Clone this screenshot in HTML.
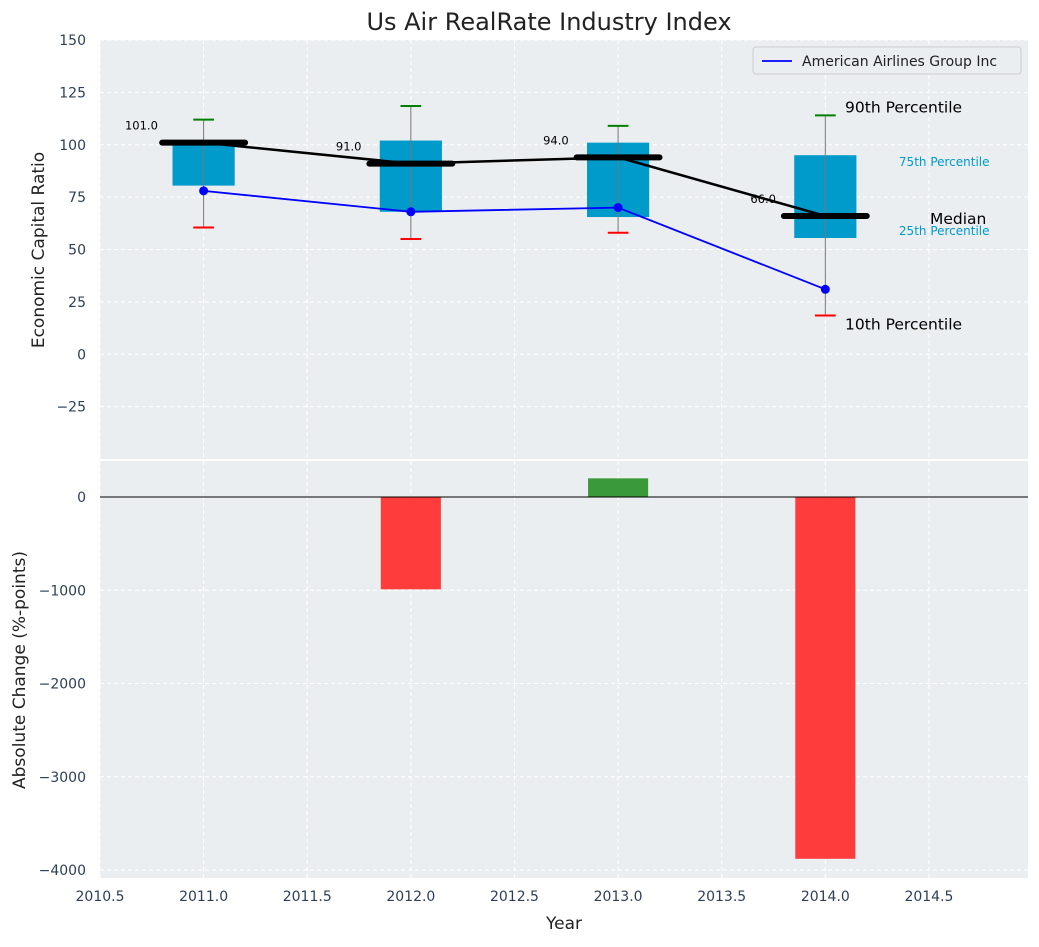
<!DOCTYPE html>
<html><head><meta charset="utf-8"><style>
body{margin:0;background:#fff;font-family:"Liberation Sans","DejaVu Sans",sans-serif}
</style></head><body>
<svg id="chart" width="1039" height="942" xmlns="http://www.w3.org/2000/svg" font-family="DejaVu Sans, Liberation Sans, sans-serif"></svg>
<script>
const years=[2011,2012,2013,2014];
const p10=[60.5,55,58,18.5];
const p25=[80.5,68,65.5,55.5];
const medians=[101,91,94,66];
const p75=[102,102,101,95];
const p90=[112,118.5,109,114];
const company=[78,68,70,31];
const changes=[0,-990,200,-3880];
const yTicksTop=[-25,0,25,50,75,100,125,150];
const yTicksBot=[-4000,-3000,-2000,-1000,0];
const xTicks=[2010.5,2011,2011.5,2012,2012.5,2013,2013.5,2014,2014.5];

const svg=document.getElementById('chart');
const NS='http://www.w3.org/2000/svg';
function el(t,a,p){const e=document.createElementNS(NS,t);for(const k in a)e.setAttribute(k,a[k]);(p||svg).appendChild(e);return e;}
const L=100,R=1028;
const x=v=>L+(v-2010.5)*(R-L)/(2014.978-2010.5);
const T0=40,T1=459,B0=461,B1=878;
const yt=v=>T1-(v+50)*(T1-T0)/200;
const yb=v=>497-v*0.09325;

let e=el('rect',{x:L,y:T0,width:R-L,height:T1-T0,fill:'#eaeef0'});

e=el('rect',{x:L,y:B0,width:R-L,height:B1-B0,fill:'#eaeef0'});


xTicks.forEach(v=>{
  el('line',{x1:x(v),x2:x(v),y1:T0,y2:T1,stroke:'#fff','stroke-dasharray':'4,3','stroke-width':1});
  el('line',{x1:x(v),x2:x(v),y1:B0,y2:B1,stroke:'#fff','stroke-dasharray':'4,3','stroke-width':1});
  const t=el('text',{x:x(v),y:901,'text-anchor':'middle','font-size':14,fill:'#2e3f55'});t.textContent=v.toFixed(1);
  
});
yTicksTop.forEach(v=>{
  el('line',{x1:L,x2:R,y1:yt(v),y2:yt(v),stroke:'#fff','stroke-dasharray':'4,3'});
  const t=el('text',{x:86,y:yt(v)+5,'text-anchor':'end','font-size':14,fill:'#2e3f55'});t.textContent=v<0?'\u2212'+(-v):v;
  
});
yTicksBot.forEach(v=>{
  el('line',{x1:L,x2:R,y1:yb(v),y2:yb(v),stroke:'#fff','stroke-dasharray':'4,3'});
  const t=el('text',{x:86,y:yb(v)+5,'text-anchor':'end','font-size':14,fill:'#2e3f55'});t.textContent=v<0?'\u2212'+(-v):v;
  
});

years.forEach((yr,i)=>{
  const b=el('rect',{x:x(yr-0.15),y:yt(p75[i]),width:x(yr+0.15)-x(yr-0.15),height:yt(p25[i])-yt(p75[i]),fill:'#009acb'});
  
  el('line',{x1:x(yr),x2:x(yr),y1:yt(p90[i]),y2:yt(p10[i]),stroke:'#777','stroke-width':1});
  el('line',{x1:x(yr-0.05),x2:x(yr+0.05),y1:yt(p90[i]),y2:yt(p90[i]),stroke:'green','stroke-width':2});
  el('line',{x1:x(yr-0.05),x2:x(yr+0.05),y1:yt(p10[i]),y2:yt(p10[i]),stroke:'red','stroke-width':2});
});
e=el('polyline',{points:years.map((yr,i)=>x(yr)+','+yt(medians[i])).join(' '),fill:'none',stroke:'#000','stroke-width':2.5});

years.forEach((yr,i)=>{
  const m=el('line',{x1:x(yr-0.2),x2:x(yr+0.2),y1:yt(medians[i]),y2:yt(medians[i]),stroke:'#000','stroke-width':6,'stroke-linecap':'round'});
  
  const t=el('text',{x:x(yr-0.3),y:yt(medians[i])-13,'text-anchor':'middle','font-size':11.5,fill:'#000'});t.textContent=medians[i].toFixed(1);
  
});
e=el('polyline',{points:years.map((yr,i)=>x(yr)+','+yt(company[i])).join(' '),fill:'none',stroke:'blue','stroke-width':1.8});

years.forEach((yr,i)=>{const c=el('circle',{cx:x(yr),cy:yt(company[i]),r:4.5,fill:'blue'});
  });

const last=3,ax=x(years[last]+0.1)-1;
[['90th Percentile',yt(p90[last])-3,15.5,'#000',ax],['10th Percentile',yt(p10[last])+14,15.5,'#000',ax],['Median',yt(medians[last])+8,15.5,'#000',x(2014.51)-1],
 ['75th Percentile',yt(p75[last])+11,12,'#009acb',x(2014.36)-1],['25th Percentile',yt(p25[last])-3,12,'#009acb',x(2014.36)-1]].forEach(a=>{
  const t=el('text',{x:a[4],y:a[1],'font-size':a[2],fill:a[3]});t.textContent=a[0];
  
});

years.forEach((yr,i)=>{
  if(!changes[i])return;
  const v=changes[i];
  const b=el('rect',{x:x(yr-0.145),y:Math.min(yb(0),yb(v)),width:x(yr+0.145)-x(yr-0.145),height:Math.abs(yb(v)-yb(0)),fill:v<0?'#ff3c3c':'#3a9a3a'});
  
});
el('line',{x1:L,x2:R,y1:yb(0),y2:yb(0),stroke:'#000','stroke-width':1});

const lg=el('g',{});
el('rect',{x:753,y:47,width:268,height:27,rx:3,fill:'#eaeef0',stroke:'#ccc'},lg);
el('line',{x1:762,x2:792,y1:61,y2:61,stroke:'blue','stroke-width':1.8},lg);
e=el('text',{x:802,y:66,'font-size':14,fill:'#222'},lg);e.textContent='American Airlines Group Inc';

e=el('text',{x:549,y:30,'text-anchor':'middle','font-size':24,fill:'#222'});e.textContent='Us Air RealRate Industry Index';

e=el('text',{x:564,y:929,'text-anchor':'middle','font-size':17,fill:'#222'});e.textContent='Year';

e=el('text',{x:0,y:0,'text-anchor':'middle','font-size':17,fill:'#222',transform:'translate(44,250) rotate(-90)'});e.textContent='Economic Capital Ratio';

e=el('text',{x:0,y:0,'text-anchor':'middle','font-size':17,fill:'#222',transform:'translate(25,670) rotate(-90)'});e.textContent='Absolute Change (%-points)';

</script>
</body></html>
